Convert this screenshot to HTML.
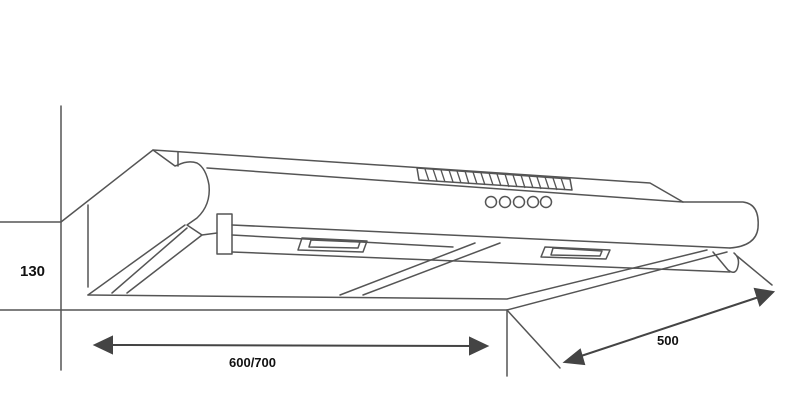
<!DOCTYPE html>
<html><head><meta charset="utf-8"><style>
html,body{margin:0;padding:0;background:#fff;}
svg{display:block;}
text{font-family:"Liberation Sans",sans-serif;font-weight:bold;fill:#111;}
</style></head><body>
<svg width="787" height="420" viewBox="0 0 787 420" xmlns="http://www.w3.org/2000/svg">
<g fill="none" stroke="#555" stroke-width="1.5" stroke-linejoin="round" stroke-linecap="round">
<!-- wall -->
<line x1="61" y1="106" x2="61" y2="370"/>
<line x1="0" y1="222" x2="61" y2="222"/>
<line x1="0" y1="310" x2="507" y2="310"/>
<line x1="507" y1="310" x2="507" y2="376"/>
<line x1="507" y1="310" x2="560" y2="368"/>
<!-- cabinet front / underside -->
<line x1="88" y1="205" x2="88" y2="287"/>
<polyline points="88,295 507,299 707,250"/>
<line x1="507" y1="310" x2="727" y2="252"/>
<!-- left strips -->
<line x1="88" y1="295" x2="185" y2="225"/>
<line x1="112" y1="293" x2="187" y2="228"/>
<line x1="127" y1="293" x2="202" y2="235"/>
<!-- middle strips -->
<line x1="340" y1="295" x2="475" y2="243"/>
<line x1="363" y1="295" x2="500" y2="243"/>
<!-- hood top -->
<polyline points="61,222 153,150 650,183 683,202"/>
<line x1="207" y1="168" x2="683" y2="202"/>
<path d="M683,202 L743,202 Q760,204 758,228 Q756,246 730,248"/>
<!-- end cap -->
<polyline points="153,150 175,166 178,165"/>
<line x1="178" y1="152" x2="178" y2="166"/>
<path d="M178,165 Q188,160 197,163 Q206,168 209,185 Q211,205 197,218 L187,225 L202,235 L217,233"/>
<!-- cylinder bottom & back edge -->
<line x1="232" y1="225" x2="730" y2="248"/>
<line x1="232" y1="235" x2="453" y2="247"/>
<line x1="232" y1="252" x2="730" y2="272"/>
<!-- bracket -->
<rect x="217" y="214" width="15" height="40"/>
<!-- filters handles -->
<polygon points="302,238 367,241 363,252 298,250"/>
<polygon points="311,240 360,242 358,248 309,247"/>
<polygon points="545,247 610,250 606,259 541,257"/>
<polygon points="553,248 602,251 600,256 551,255"/>
<!-- right small cylinder -->
<path d="M713,252 L728,270 Q736,276 738,266 Q740,258 734,253"/>
<line x1="737" y1="256" x2="772" y2="285"/>
<!-- vent -->
<polygon points="417,168 570,179 572,190 419,180"/>
</g>
<g stroke="#555" stroke-width="1.3">
<line x1="425" y1="169" x2="429" y2="181"/><line x1="433" y1="169" x2="437" y2="181"/>
<line x1="441" y1="170" x2="445" y2="182"/><line x1="449" y1="170" x2="453" y2="182"/>
<line x1="457" y1="171" x2="461" y2="183"/><line x1="465" y1="171" x2="469" y2="184"/>
<line x1="473" y1="172" x2="477" y2="184"/><line x1="481" y1="173" x2="485" y2="185"/>
<line x1="489" y1="173" x2="493" y2="185"/><line x1="497" y1="174" x2="501" y2="186"/>
<line x1="505" y1="174" x2="509" y2="187"/><line x1="513" y1="175" x2="517" y2="187"/>
<line x1="521" y1="175" x2="525" y2="188"/><line x1="529" y1="176" x2="533" y2="188"/>
<line x1="537" y1="177" x2="541" y2="189"/><line x1="545" y1="177" x2="549" y2="189"/>
<line x1="553" y1="178" x2="557" y2="190"/><line x1="561" y1="178" x2="565" y2="190"/>
</g>
<g fill="none" stroke="#555" stroke-width="1.5">
<circle cx="491" cy="202" r="5.5"/><circle cx="505" cy="202" r="5.5"/>
<circle cx="519" cy="202" r="5.5"/><circle cx="533" cy="202" r="5.5"/>
<circle cx="546" cy="202" r="5.5"/>
</g>
<!-- dimension arrows -->
<g stroke="#444" stroke-width="2" fill="#444">
<line x1="105" y1="345" x2="476" y2="346"/>
<polygon points="95,345 112,337 112,353"/>
<polygon points="487,346 470,338 470,354"/>
<line x1="575" y1="358" x2="762" y2="296"/>
<polygon points="565,362 580,350 584,364"/>
<polygon points="773,292 755,289 760,305"/>
</g>
<text x="20" y="276" font-size="15">130</text>
<text x="229" y="367" font-size="13">600/700</text>
<text x="657" y="345" font-size="13">500</text>
</svg>
</body></html>
